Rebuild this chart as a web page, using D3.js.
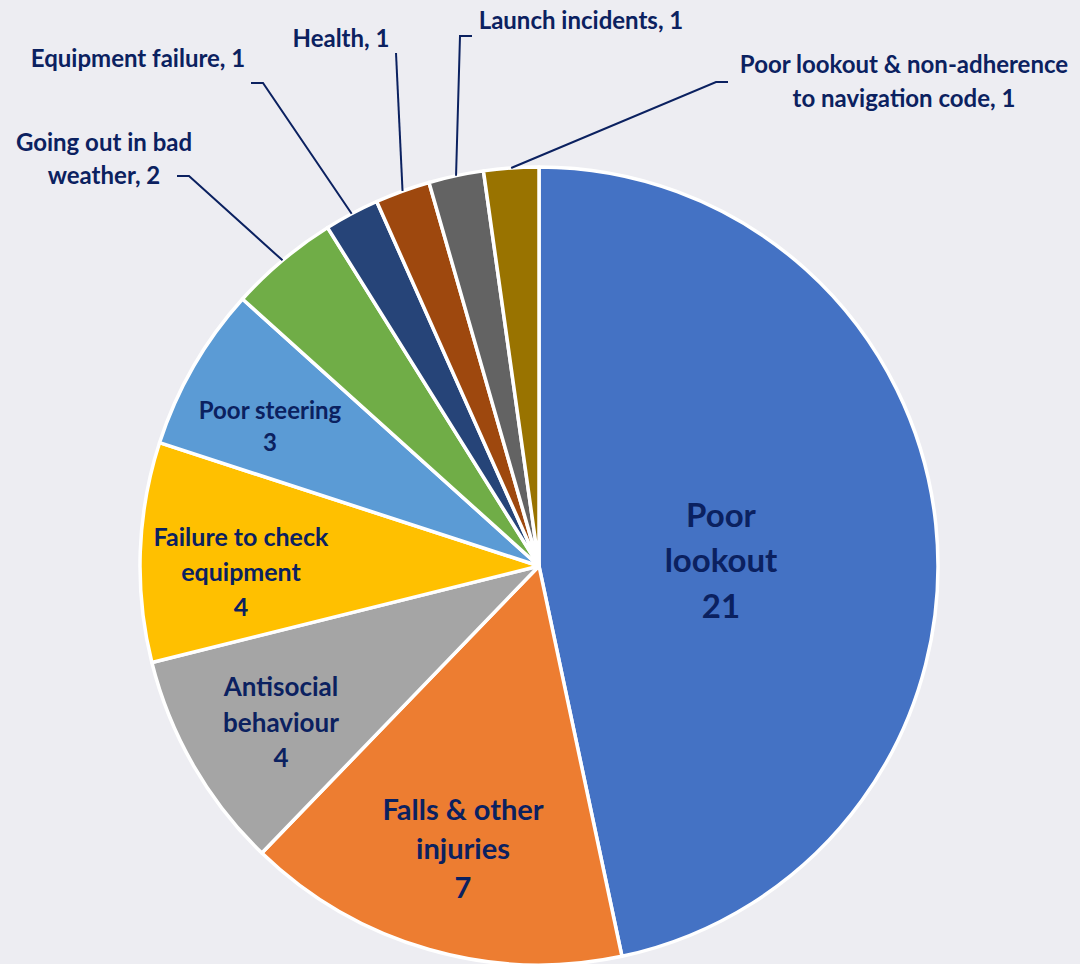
<!DOCTYPE html>
<html>
<head>
<meta charset="utf-8">
<script src="https://cdn.jsdelivr.net/npm/d3@7"></script>
<style>
  body { margin: 0; background: #EDEDF2; }
</style>
</head>
<body>
<script>
// data (45 incidents in all)
var categories = ["Poor lookout", "Falls & other injuries", "Antisocial behaviour",
  "Failure to check equipment", "Poor steering", "Going out in bad weather",
  "Equipment failure", "Health", "Launch incidents",
  "Poor lookout & non-adherence to navigation code"];
var values = [21, 7, 4, 4, 3, 2, 1, 1, 1, 1];
var colors = ["#4472C4", "#ED7D31", "#A5A5A5", "#FFC000", "#5B9BD5",
  "#70AD47", "#264478", "#9E480E", "#636363", "#997300"];

// how each name is wrapped, and whether the label sits outside with a leader
var nameLines = [["Poor", "lookout"], ["Falls & other", "injuries"], ["Antisocial", "behaviour"],
  ["Failure to check", "equipment"], ["Poor steering"], ["Going out in bad", "weather"],
  ["Equipment failure"], ["Health"], ["Launch incidents"],
  ["Poor lookout & non-adherence", "to navigation code"]];
var outside = [false, false, false, false, false, true, true, true, true, true];

var w = 1080;
var h = 964;
var cx = 539, cy = 566, rad = 399;
var textCol = "#0B2160";

// label layout: x, y of first line centre, font size, line step
var labelPos = [[721, 515, 33, 45.5], [463, 810, 29, 39], [281, 687, 26, 35.5],
  [241, 537, 25, 35], [270, 410, 24, 32], [104, 142, 24, 33], [138, 58, 24, 33],
  [341, 38, 24, 33], [581, 20, 24, 33], [904, 64, 24, 34]];
// leader start near the label, then bend point; the end is on the slice edge
var leaderFrom = [null, null, null, null, null,
  [[177, 176], [189, 176]], [[251, 83], [263, 83]], [[396, 53], [396, 53]],
  [[472, 36], [460, 36]], [[728, 82], [716, 82]]];

var svg = d3.select("body").append("svg")
    .attr("width", w)
    .attr("height", h)
    .style("background-color", "#EDEDF2")
    .style("display", "block");

var pie = d3.pie().sort(null).value(function(d) { return d; });
var arcs = pie(values);

var arc = d3.arc().innerRadius(0).outerRadius(rad);
var edge = d3.arc().innerRadius(rad).outerRadius(rad);

var g = svg.append("g").attr("transform", "translate(" + cx + "," + cy + ")");

g.selectAll("path.slice")
  .data(arcs)
  .enter().append("path")
    .attr("class", "slice")
    .attr("d", arc)
    .attr("fill", function(d, i) { return colors[i]; })
    .attr("stroke", "white")
    .attr("stroke-width", 3.5)
    .attr("stroke-linejoin", "round");

// leader lines for the small slices
var line = d3.line();
arcs.forEach(function(d, i) {
  if (!outside[i]) return;
  var p = edge.centroid(d);
  var pts = leaderFrom[i].concat([[p[0] + cx, p[1] + cy]]);
  svg.append("path")
    .attr("d", line(pts))
    .attr("fill", "none")
    .attr("stroke", textCol)
    .attr("stroke-width", 2);
});

// labels
arcs.forEach(function(d, i) {
  var lines = nameLines[i].slice();
  if (outside[i]) {
    lines[lines.length - 1] += ", " + values[i];
  } else {
    lines.push(String(values[i]));
  }
  var pos = labelPos[i];
  var t = svg.append("text")
    .attr("text-anchor", "middle")
    .style("font-family", "Lato, 'Open Sans', sans-serif")
    .style("font-weight", "bold")
    .style("font-size", pos[2] + "px")
    .attr("fill", textCol);
  lines.forEach(function(s, k) {
    t.append("tspan")
      .attr("x", pos[0])
      .attr("y", pos[1] + k * pos[3] + pos[2] * 0.36)
      .text(s);
  });
});
</script>
</body>
</html>
